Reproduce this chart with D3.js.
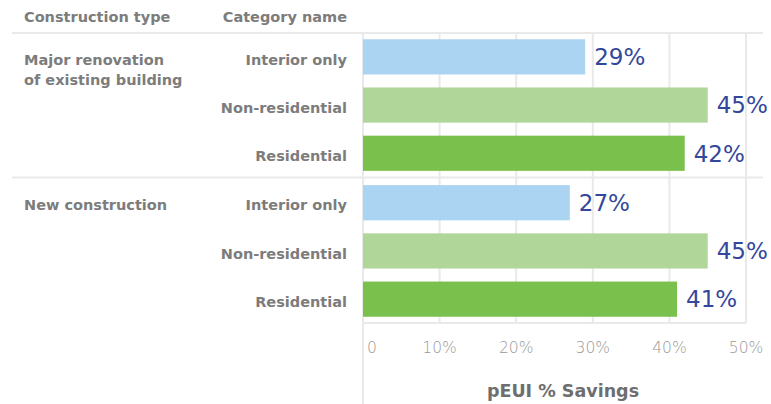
<!DOCTYPE html>
<html>
<head>
<meta charset="utf-8">
<script src="https://cdn.jsdelivr.net/npm/d3@7"></script>
<style>
  body { margin: 0; background: #fff; }
  text { font-family: "DejaVu Sans", sans-serif; }
</style>
</head>
<body>
<div id="chart"></div>
<script>
let width = 771;
let height = 404;

// Data
const groups = ["Major renovation\nof existing building", "New construction"];
const categories = ["Interior only", "Non-residential", "Residential"];
const savings = [
  [29, 45, 42],
  [27, 45, 41]
];
const barColors = ["#abd3f2", "#b1d69a", "#79c14c"];
const xTicks = [0, 10, 20, 30, 40, 50];

let svg = d3.select("#chart").append("svg")
  .attr("width", width)
  .attr("height", height);

// rows
var rows = [];
groups.forEach(function (g, gi) {
  categories.forEach(function (c, ci) {
    rows.push({ group: gi, cat: c, ci: ci, value: savings[gi][ci] });
  });
});

var x = d3.scaleLinear()
  .domain([0, 50])
  .range([363, 746]);

// each group gets its own band
var yGroup = d3.scaleBand()
  .domain(d3.range(groups.length))
  .range([33, 323])
  .paddingInner(0.012);

var yCat = d3.scaleBand()
  .domain(d3.range(categories.length))
  .range([0, yGroup.bandwidth()])
  .paddingInner(0.27)
  .paddingOuter(0.13);

function rowY(d) { return yGroup(d.group) + yCat(d.ci); }
function rowMid(d) { return rowY(d) + yCat.bandwidth() / 2; }

var gridColor = "#e9e9e9";
var labelColor = "#7c7c7c";

// vertical gridlines
svg.append("g")
  .selectAll("line")
  .data(xTicks)
  .enter()
  .append("line")
  .attr("x1", d => x(d))
  .attr("x2", d => x(d))
  .attr("y1", 33)
  .attr("y2", d => d === 0 ? height : 323)
  .attr("stroke", gridColor)
  .attr("stroke-width", 2);

// horizontal rules
svg.append("line")
  .attr("x1", 12).attr("x2", 763)
  .attr("y1", 33).attr("y2", 33)
  .attr("stroke", gridColor).attr("stroke-width", 2);
svg.append("line")
  .attr("x1", 12).attr("x2", 763)
  .attr("y1", yGroup(1) - 1.5).attr("y2", yGroup(1) - 1.5)
  .attr("stroke", gridColor).attr("stroke-width", 2);
svg.append("line")
  .attr("x1", 363).attr("x2", 746)
  .attr("y1", 323).attr("y2", 323)
  .attr("stroke", gridColor).attr("stroke-width", 2);

// bars
svg.append("g")
  .selectAll("rect")
  .data(rows)
  .enter()
  .append("rect")
  .attr("x", x(0))
  .attr("y", d => rowY(d))
  .attr("width", d => x(d.value) - x(0))
  .attr("height", yCat.bandwidth())
  .attr("fill", d => barColors[d.ci]);

// value labels
svg.append("g")
  .selectAll("text")
  .data(rows)
  .enter()
  .append("text")
  .attr("x", d => x(d.value) + 9)
  .attr("y", d => rowMid(d))
  .attr("dy", "0.36em")
  .attr("font-size", 23)
  .attr("font-weight", 400)
  .attr("fill", "#34489b")
  .text(d => d.value + "%");

// category labels
svg.append("g")
  .selectAll("text")
  .data(rows)
  .enter()
  .append("text")
  .attr("x", 347)
  .attr("y", d => rowMid(d) + 2.5)
  .attr("dy", "0.36em")
  .attr("text-anchor", "end")
  .attr("font-size", 14.5)
  .attr("font-weight", 700)
  .attr("fill", labelColor)
  .text(d => d.cat);

// group labels
groups.forEach(function (g, gi) {
  var t = svg.append("text")
    .attr("y", yGroup(gi) + yCat(0) + yCat.bandwidth() / 2 + 2.5)
    .attr("font-size", 14.5)
    .attr("font-weight", 700)
    .attr("fill", labelColor);
  g.split("\n").forEach(function (line, li) {
    t.append("tspan")
      .attr("x", 24)
      .attr("dy", li === 0 ? "0.36em" : 20)
      .text(line);
  });
});

// headers
svg.append("text")
  .attr("x", 24).attr("y", 22)
  .attr("font-size", 14.5).attr("font-weight", 700)
  .attr("fill", labelColor)
  .text("Construction type");
svg.append("text")
  .attr("x", 347).attr("y", 22)
  .attr("text-anchor", "end")
  .attr("font-size", 14.5).attr("font-weight", 700)
  .attr("fill", labelColor)
  .text("Category name");

// x tick labels
svg.append("g")
  .selectAll("text")
  .data(xTicks)
  .enter()
  .append("text")
  .attr("x", d => d === 0 ? x(d) + 4 : x(d))
  .attr("y", 353)
  .attr("text-anchor", d => d === 0 ? "start" : "middle")
  .attr("font-size", 15.5)
  .attr("font-weight", 200)
  .attr("fill", "#999999")
  .text(d => d === 0 ? "0" : d + "%");

// axis title
svg.append("text")
  .attr("x", 563).attr("y", 397)
  .attr("text-anchor", "middle")
  .attr("font-size", 17.5).attr("font-weight", 700)
  .attr("fill", "#6e6e6e")
  .text("pEUI % Savings");
</script>
</body>
</html>
